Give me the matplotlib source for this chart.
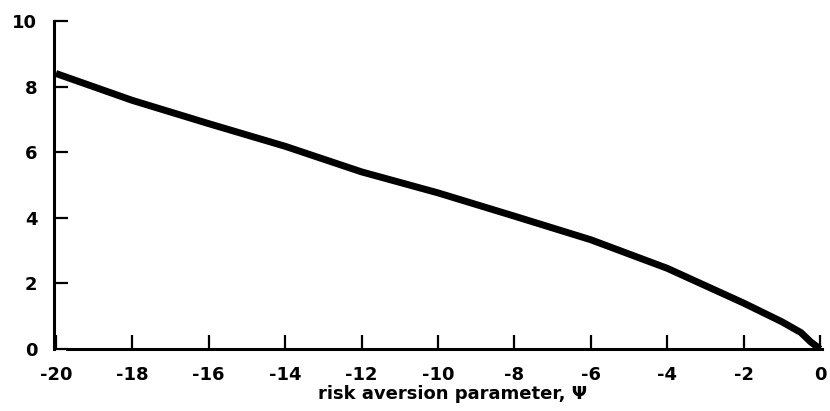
import matplotlib
matplotlib.use("Agg")
import matplotlib.pyplot as plt

# Data
psi = [-20, -18, -16, -14, -12, -10, -8, -6, -4, -2, -1, -0.5, -0.25, 0]
value = [8.40, 7.58, 6.87, 6.18, 5.40, 4.76, 4.05, 3.33, 2.46, 1.40, 0.83, 0.50, 0.22, 0.0]
xticks = list(range(-20, 1, 2))
yticks = list(range(0, 11, 2))
xlabel = "risk aversion parameter, \u03a8"

plt.rcParams['font.family'] = ['DejaVu Sans']
plt.rcParams['font.weight'] = 'bold'

fig = plt.figure(figsize=(8.30, 4.11), dpi=100)
ax = fig.add_axes([54/830, 62/411, 768/830, 328/411])

ax.plot(psi, value, color='black', lw=5, solid_capstyle='butt', solid_joinstyle='round')

ax.set_xlim(-20.05, 0.05)
ax.set_ylim(0, 10)
ax.set_xticks(xticks)
ax.set_yticks(yticks)
ax.set_xticklabels([str(t) for t in xticks], fontweight='bold')
ax.set_yticklabels([str(t) for t in yticks], fontweight='bold')

for s in ['top', 'right']:
    ax.spines[s].set_visible(False)
for s in ['left', 'bottom']:
    ax.spines[s].set_linewidth(2.2)
    ax.spines[s].set_color('black')
ax.spines['bottom'].set_bounds(-19.72, 0.05)

ax.tick_params(axis='both', direction='in', length=10, width=1.6, colors='black',
               labelsize=13)
ax.tick_params(axis='y', pad=12)
ax.tick_params(axis='x', pad=12)

ax.set_xlabel(xlabel, fontsize=13, fontweight='bold', labelpad=0)
ax.xaxis.set_label_coords(0.5195, -0.1524, transform=ax.transAxes)
ax.xaxis.label.set_va('baseline')

fig.savefig('out.png', dpi=100, facecolor='white')
